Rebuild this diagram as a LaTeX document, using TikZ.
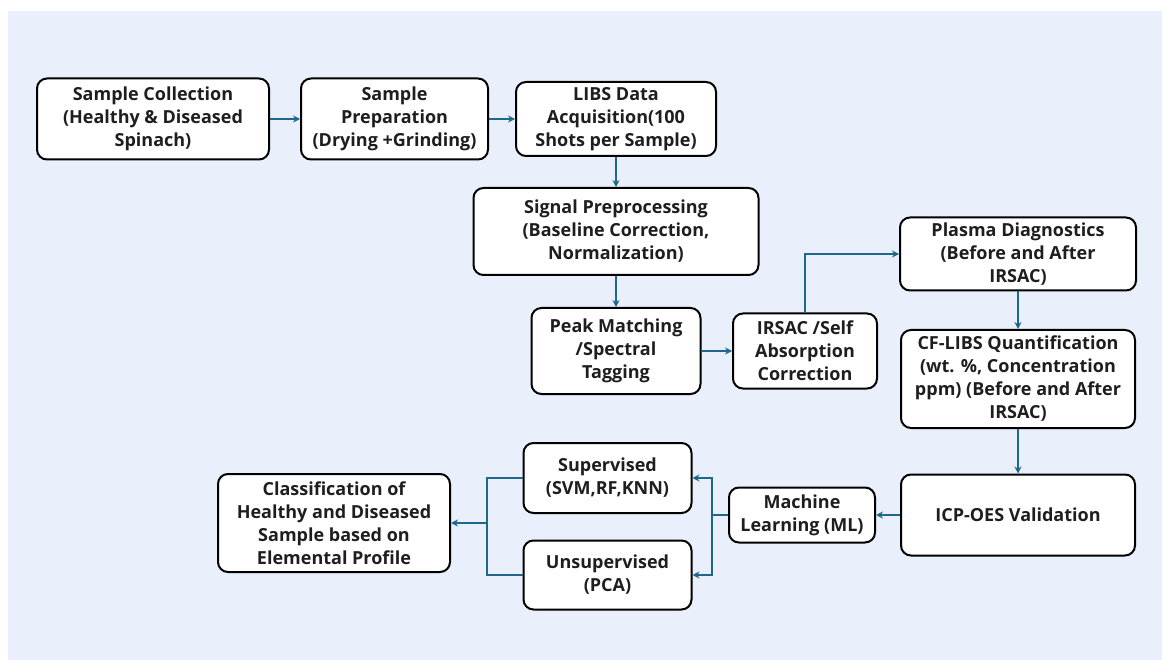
\documentclass[tikz,border=0pt]{standalone}
\usepackage{fontspec}
\setmainfont{Open Sans}
\usetikzlibrary{arrows.meta}
\definecolor{panelblue}{RGB}{233,240,251}
\definecolor{flowblue}{RGB}{31,104,140}
\definecolor{inkgray}{RGB}{30,30,30}
\tikzset{
  stage/.style={draw=black, line width=2pt, rounded corners=10pt, fill=white,
    align=center, inner sep=0pt, text=inkgray,
    font=\fontsize{18}{23}\selectfont\bfseries},
  flow/.style={draw=flowblue, line width=2.2pt,
    -{Stealth[length=7pt,width=7pt]}},
  link/.style={draw=flowblue, line width=2.2pt}
}
\begin{document}
\begin{tikzpicture}[x=1pt,y=-1pt]
\useasboundingbox (0,0) rectangle (1162,660);
\fill[panelblue] (8,11) rectangle (1162,660);

\node[stage, minimum width=232pt, minimum height=81pt] (collect) at (153,119)
  {Sample Collection\\(Healthy \& Diseased\\Spinach)};
\node[stage, minimum width=187pt, minimum height=81pt] (prepare) at (394.5,119)
  {Sample\\Preparation\\(Drying +Grinding)};
\node[stage, minimum width=200pt, minimum height=74pt] (libs) at (616,119)
  {LIBS Data\\Acquisition(100\\Shots per Sample)};
\node[stage, minimum width=285pt, minimum height=87pt] (signal) at (616,231.5)
  {Signal Preprocessing\\(Baseline Correction,\\Normalization)};
\node[stage, minimum width=169pt, minimum height=86pt] (peak) at (616,351)
  {Peak Matching\\/Spectral\\Tagging};
\node[stage, minimum width=144pt, minimum height=75pt] (irsac) at (805,351)
  {IRSAC /Self\\Absorption\\Correction};
\node[stage, minimum width=236pt, minimum height=73pt] (plasma) at (1018,254)
  {Plasma Diagnostics\\(Before and After\\IRSAC)};
\node[stage, minimum width=234pt, minimum height=98pt] (cflibs) at (1018,379)
  {CF-LIBS Quantification\\(wt. \%, Concentration\\ppm) (Before and After\\IRSAC)};
\node[stage, minimum width=234pt, minimum height=81pt] (icp) at (1018,515)
  {ICP-OES Validation};
\node[stage, minimum width=146pt, minimum height=55pt] (ml) at (802,515)
  {Machine\\Learning (ML)};
\node[stage, minimum width=168pt, minimum height=70pt] (sup) at (607.5,478)
  {Supervised\\(SVM,RF,KNN)};
\node[stage, minimum width=168pt, minimum height=69pt] (unsup) at (607.5,575)
  {Unsupervised\\(PCA)};
\node[stage, minimum width=232pt, minimum height=98pt] (classify) at (334,523)
  {Classification of\\Healthy and Diseased\\Sample based on\\Elemental Profile};

\coordinate (mlfork) at (712,515);
\coordinate (merge) at (487,523);

\path[flow]
  (collect) edge (prepare)
  (prepare) edge (libs)
  (libs) edge (signal)
  (signal) edge (peak)
  (peak) edge (irsac)
  (plasma) edge (cflibs)
  (cflibs) edge (icp)
  (icp) edge (ml)
  ;
\draw[flow] (irsac.north) |- (plasma.west);
\draw[flow] (ml.west) -- (mlfork) |- (sup.east);
\draw[flow] (mlfork) |- (unsup.east);
\draw[link] (unsup.west) -| (merge);
\draw[flow] (sup.west) -| (merge) -- (classify.east);
\end{tikzpicture}
\end{document}
